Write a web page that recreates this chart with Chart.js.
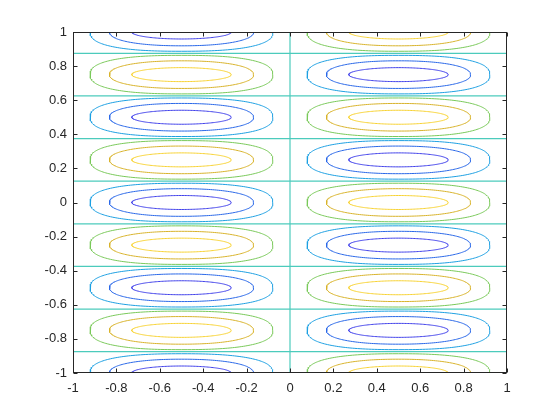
<!DOCTYPE html>
<html>
<head>
<meta charset="utf-8">
<script src="https://cdn.jsdelivr.net/npm/chart.js@4/dist/chart.umd.min.js"></script>
<style>
  html, body { margin: 0; padding: 0; background: #fff; }
  canvas { display: block; }
</style>
</head>
<body>
<canvas id="contourChart" width="560" height="420"></canvas>
<script>
// tick labels
const xTicks = [-1, -0.8, -0.6, -0.4, -0.2, 0, 0.2, 0.4, 0.6, 0.8, 1];
const yTicks = [-1, -0.8, -0.6, -0.4, -0.2, 0, 0.2, 0.4, 0.6, 0.8, 1];

// cell centres and the sign of each cell
const cellX = [-0.5, 0.5];
const cellY = [1, 0.75, 0.5, 0.25, 0, -0.25, -0.5, -0.75, -1];
const leftSign = [-1, 1, -1, 1, -1, 1, -1, 1, -1];
const rightSign = [1, -1, 1, -1, 1, -1, 1, -1, 1];

// contour levels (abs value), with their measured half-width / half-height
const levels = [0.25, 0.5, 0.75];
const halfWidth = [0.421, 0.332, 0.229];
const halfHeight = [0.113, 0.081, 0.041];
const roundness = [2.5, 2.2, 2.0];

// zero contour lines
const zeroY = [0.875, 0.625, 0.375, 0.125, -0.125, -0.375, -0.625, -0.875];
const zeroX = [0];

const posColors = { 0.25: "#7ac95a", 0.5: "#d8b32b", 0.75: "#f7d232" };
const negColors = { 0.25: "#1ea0e2", 0.5: "#2a68e8", 0.75: "#4141ea" };
const zeroColor = "#4ccbbc";

function loop(cx, cy, a, b, p) {
    const pts = [];
    const n = 200;
    for (let i = 0; i <= n; i++) {
        const t = (i / n) * 2 * Math.PI;
        const c = Math.cos(t), s = Math.sin(t);
        pts.push({
            x: cx + a * Math.sign(c) * Math.pow(Math.abs(c), 2 / p),
            y: cy + b * Math.sign(s) * Math.pow(Math.abs(s), 2 / p),
        });
    }
    return pts;
}

const datasets = [];
const line = (data, color, width) => ({
    data: data,
    showLine: true,
    borderColor: color,
    borderWidth: width || 1,
    pointRadius: 0,
    fill: false,
    tension: 0,
});

cellY.forEach((cy, r) => {
    cellX.forEach((cx, c) => {
        const sign = c === 0 ? leftSign[r] : rightSign[r];
        levels.forEach((lv, k) => {
            const color = sign > 0 ? posColors[lv] : negColors[lv];
            datasets.push(line(loop(cx, cy, halfWidth[k], halfHeight[k], roundness[k]), color));
        });
    });
});
zeroY.forEach((y) => datasets.push(line([{ x: -1, y: y }, { x: 1, y: y }], zeroColor, 1.2)));
zeroX.forEach((x) => datasets.push(line([{ x: x, y: -1 }, { x: x, y: 1 }], zeroColor, 1.2)));

const boxPlugin = {
    id: "box",
    afterDatasetsDraw(chart) {
        const { ctx, chartArea: a, scales } = chart;
        const L = Math.round(a.left) + 0.5, R = Math.round(a.right) - 0.5;
        const T = Math.round(a.top) + 0.5, B = Math.round(a.bottom) - 0.5;
        ctx.save();
        ctx.strokeStyle = "#262626";
        ctx.lineWidth = 1;
        ctx.strokeRect(L, T, R - L, B - T);
        ctx.beginPath();
        xTicks.forEach((v) => {
            const px = Math.round(scales.x.getPixelForValue(v)) + 0.5;
            ctx.moveTo(px, B); ctx.lineTo(px, B - 4);
            ctx.moveTo(px, T); ctx.lineTo(px, T + 4);
        });
        yTicks.forEach((v) => {
            const py = Math.round(scales.y.getPixelForValue(v)) + 0.5;
            ctx.moveTo(L, py); ctx.lineTo(L + 4, py);
            ctx.moveTo(R, py); ctx.lineTo(R - 4, py);
        });
        ctx.stroke();
        ctx.restore();
    },
};

const font = { family: "'Liberation Sans', Arial, sans-serif", size: 13 };

new Chart(document.getElementById("contourChart"), {
    type: "scatter",
    data: { datasets: datasets },
    options: {
        responsive: false,
        animation: false,
        layout: { padding: { top: 32, right: 53, left: 0, bottom: 0 } },
        plugins: { legend: { display: false }, tooltip: { enabled: false } },
        scales: {
            x: {
                type: "linear",
                min: -1,
                max: 1,
                grid: { display: false, drawTicks: false },
                border: { display: false },
                ticks: { color: "#262626", font: font, padding: 8, maxRotation: 0, callback: (v) => String(v) },
                afterBuildTicks: (axis) => { axis.ticks = xTicks.map((v) => ({ value: v })); },
                afterFit: (axis) => { axis.height = 47; },
            },
            y: {
                type: "linear",
                min: -1,
                max: 1,
                grid: { display: false, drawTicks: false },
                border: { display: false },
                ticks: { color: "#262626", font: font, padding: 6, callback: (v) => String(v) },
                afterBuildTicks: (axis) => { axis.ticks = yTicks.map((v) => ({ value: v })); },
                afterFit: (axis) => { axis.width = 73; },
            },
        },
    },
    plugins: [boxPlugin],
});
</script>
</body>
</html>
